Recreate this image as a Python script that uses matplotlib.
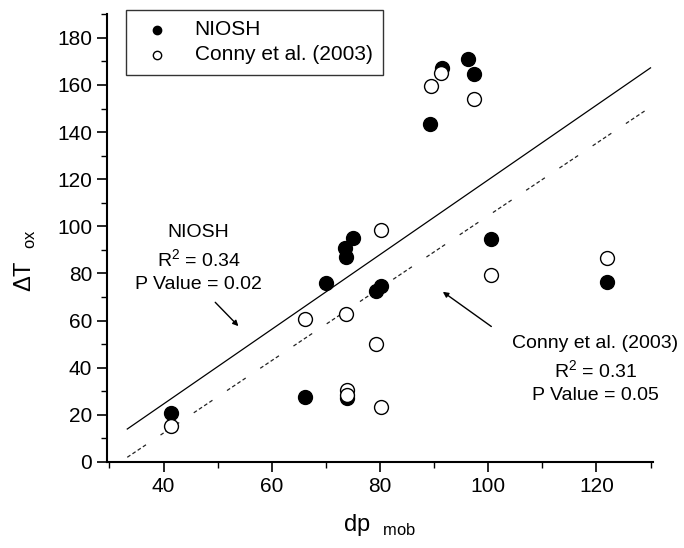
import numpy as np
import matplotlib
matplotlib.use('Agg')
import matplotlib.pyplot as plt
from matplotlib.ticker import MultipleLocator

plt.rcParams['font.family'] = ['Liberation Sans', 'DejaVu Sans']
plt.rcParams['mathtext.fontset'] = 'custom'
plt.rcParams['mathtext.rm'] = 'Liberation Sans'

# NIOSH (filled)
niosh_x = [41.3, 66.2, 70.1, 73.8, 73.6, 75.1, 74.0, 79.2, 80.2, 89.2, 91.5, 96.2, 97.3, 100.6, 121.9]
niosh_y = [20.8, 27.5, 75.8, 87.0, 90.6, 95.0, 27.0, 72.5, 74.5, 143.6, 167.0, 170.8, 164.8, 94.5, 76.5]

# Conny et al. (2003) (open)
conny_x = [41.3, 66.1, 73.8, 74.0, 74.0, 79.2, 80.1, 80.1, 89.4, 91.2, 97.3, 100.6, 121.9]
conny_y = [15.3, 60.6, 63.0, 30.5, 28.5, 50.0, 98.3, 23.3, 159.7, 165.0, 154.0, 79.2, 86.4]

# regression lines (slope, intercept) and x span
niosh_fit = (1.585, -38.8)
conny_fit = (1.537, -49.2)
fit_x = np.array([33.3, 130.0])

fig = plt.figure(figsize=(6.84, 5.48), dpi=100)
ax = fig.add_axes([0.156, 0.157, 0.799, 0.817])

ax.plot(fit_x, niosh_fit[0] * fit_x + niosh_fit[1], color='black', lw=0.9)
ax.plot(fit_x, conny_fit[0] * fit_x + conny_fit[1], color='#222222', lw=0.9,
        linestyle=(0, (3, 2, 3, 2, 3, 2, 3, 14)))

ax.scatter(niosh_x, niosh_y, s=100, c='black', edgecolors='black', linewidths=1,
           label='NIOSH', zorder=3)
ax.scatter(conny_x, conny_y, s=100, facecolors='white', edgecolors='black', linewidths=1,
           label='Conny et al. (2003)', zorder=3)

ax.set_xlim(29.5, 130.5)
ax.set_ylim(0, 190)
ax.xaxis.set_major_locator(MultipleLocator(20))
ax.xaxis.set_minor_locator(MultipleLocator(10))
ax.yaxis.set_minor_locator(MultipleLocator(10))
ax.set_yticks(np.arange(0, 181, 20))
ax.tick_params(which='major', direction='out', length=7, width=1.2, labelsize=15)
ax.tick_params(which='minor', direction='out', length=4, width=1.0)

for s in ['top', 'right']:
    ax.spines[s].set_visible(False)
for s in ['left', 'bottom']:
    ax.spines[s].set_linewidth(1.5)

ax.set_xlabel(r'dp  $_{\rm mob}$', fontsize=17, labelpad=12)
ax.set_ylabel(r'$\Delta$T  $_{\rm ox}$', fontsize=17)
ax.yaxis.set_label_coords(-0.125, 0.45)

leg = ax.legend(loc='upper left', bbox_to_anchor=(0.035, 1.01), fontsize=15, frameon=True,
                fancybox=False, edgecolor='black', handletextpad=0.8, borderpad=0.5,
                labelspacing=0.3, markerscale=0.6, borderaxespad=0)
leg.get_frame().set_linewidth(1.0)

ax.text(46.5, 101, 'NIOSH\nR$^2$ = 0.34\nP Value = 0.02', ha='center', va='top',
        fontsize=14, linespacing=1.4)
ax.annotate('', xy=(54.2, 56.8), xytext=(49.2, 68.6),
            arrowprops=dict(arrowstyle='-|>', color='black', lw=1, mutation_scale=8))

ax.text(119.8, 54, 'Conny et al. (2003)\nR$^2$ = 0.31\nP Value = 0.05', ha='center', va='top',
        fontsize=14, linespacing=1.4)
ax.annotate('', xy=(91.2, 72.9), xytext=(101, 56.8),
            arrowprops=dict(arrowstyle='-|>', color='black', lw=1, mutation_scale=8))

fig.savefig('out.png', dpi=100)
